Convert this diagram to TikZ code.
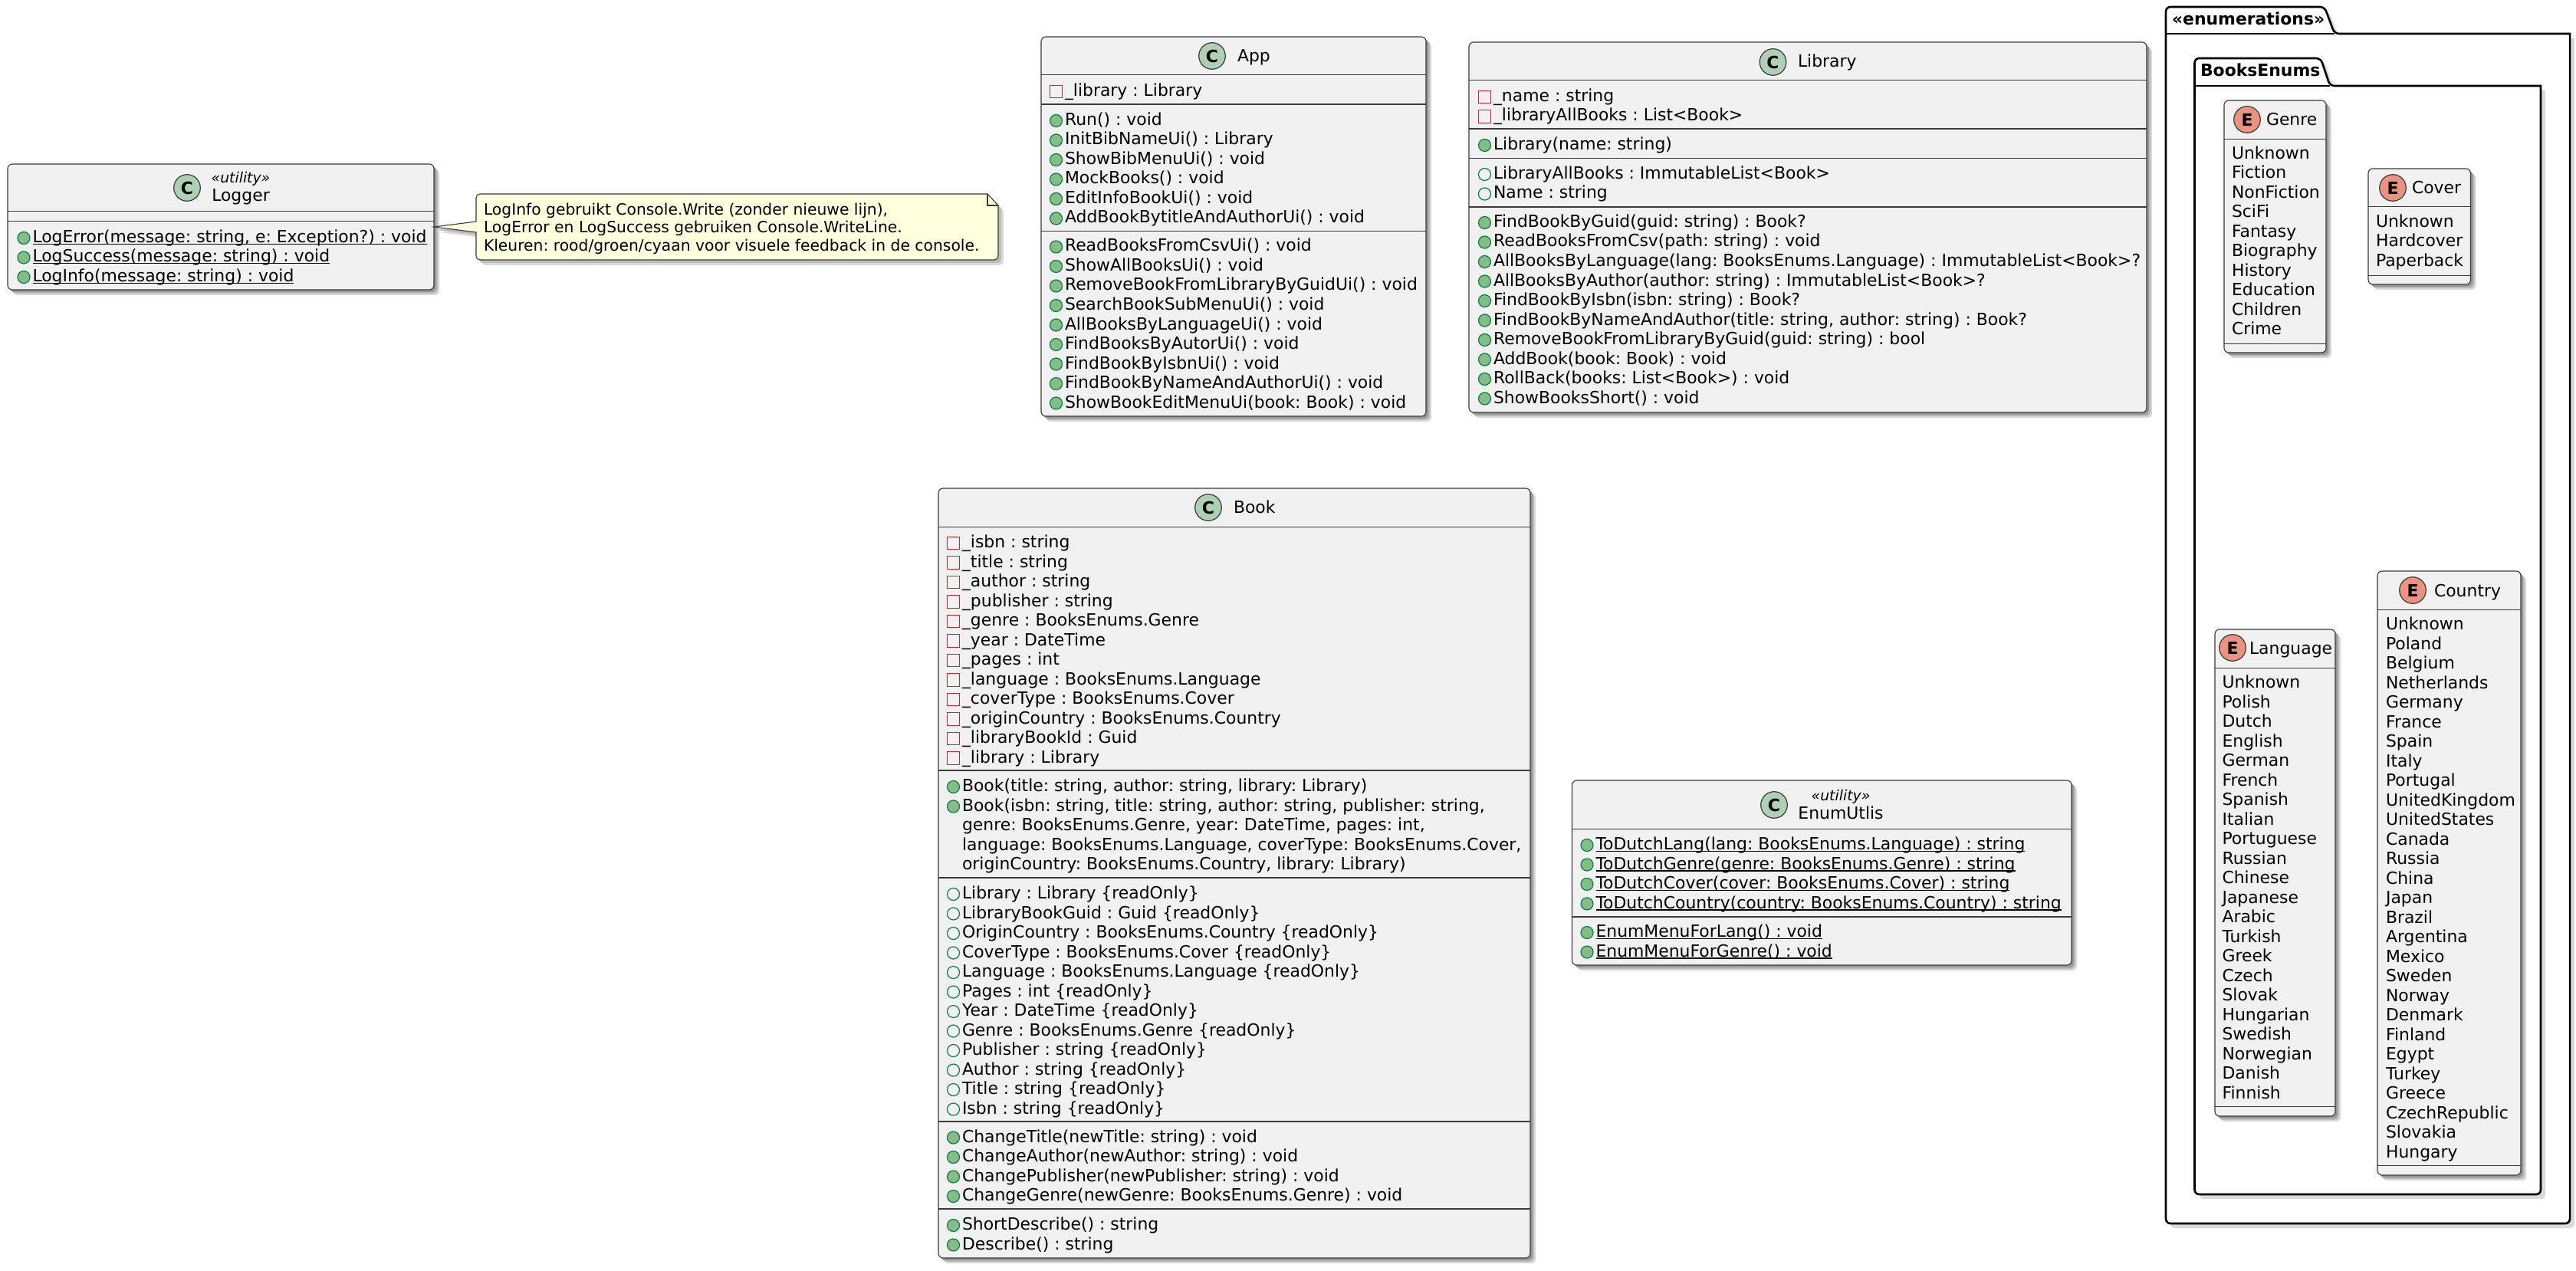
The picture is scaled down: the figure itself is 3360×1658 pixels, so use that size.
\documentclass[tikz,border=0pt]{standalone}
\usepackage{fontspec}
\setmainfont{DejaVu Sans}
\usetikzlibrary{calc}
\definecolor{boxfill}{HTML}{F1F1F1}
\definecolor{boxline}{HTML}{3A3A3A}
\definecolor{notefill}{HTML}{FEFFDD}
\definecolor{cfill}{HTML}{ADD1B2}
\definecolor{efill}{HTML}{EB937F}
\definecolor{pubfill}{HTML}{84BE84}
\definecolor{publine}{HTML}{038048}
\definecolor{privline}{HTML}{C82930}
\definecolor{sh1}{HTML}{DADADA}
\definecolor{sh2}{HTML}{BCBCBC}
\definecolor{sh3}{HTML}{969696}
\frenchspacing
\newcommand\txtsize{\fontsize{10.95pt}{12.75pt}\selectfont\frenchspacing}
\tikzset{
  cbox/.style={draw=boxline,fill=boxfill,line width=.55pt,rounded corners=3pt,inner sep=0pt,outer sep=0pt},
  thinsep/.style={draw=boxline,line width=.5pt},
  thicksep/.style={draw=boxline,line width=.85pt},
  rowt/.style={anchor=base west,inner sep=0pt,outer sep=0pt,font=\txtsize,text=black},
  titlet/.style={rowt},
  stereot/.style={anchor=base,inner sep=0pt,outer sep=0pt,font=\fontsize{9.4pt}{11pt}\selectfont\itshape},
  spot/.style={circle,draw=boxline,line width=.6pt,minimum size=17.3pt,inner sep=0pt,font=\fontsize{11pt}{11pt}\selectfont\bfseries},
  pubm/.style={circle,draw=publine,fill=pubfill,line width=.6pt,minimum size=8pt,inner sep=0pt},
  pubf/.style={circle,draw=publine,line width=.6pt,minimum size=8pt,inner sep=0pt},
  privf/.style={rectangle,draw=privline,line width=.6pt,minimum width=7.7pt,minimum height=8.2pt,inner sep=0pt},
  pk/.style={draw=black,fill=white,line width=1.3pt},
  pkt/.style={anchor=base west,inner sep=0pt,outer sep=0pt,font=\txtsize\bfseries},
  notebox/.style={draw=boxline,fill=notefill,line width=.55pt},
  notet/.style={anchor=base west,inner sep=0pt,outer sep=0pt,align=left,font=\fontsize{10.15pt}{11.8pt}\selectfont\frenchspacing},
}
\newcounter{rowc}
\gdef\curx{0}\gdef\cury{0}
\newcommand\startrows[2]{\gdef\curx{#1}\gdef\cury{#2}}
\newcommand\advrow{\pgfmathsetmacro\tmpy{\cury+25.5}\xdef\cury{\tmpy}}
\newcommand\rowT[1]{\stepcounter{rowc}\node[rowt] (t\arabic{rowc}) at (\curx,\cury+7.5) {#1};\advrow}
\newcommand\rowM[1]{\stepcounter{rowc}\node[pubm] (i\arabic{rowc}) at (\curx-11.5,\cury+1.5) {};\rowT{#1}}
\newcommand\rowF[1]{\stepcounter{rowc}\node[pubf] (i\arabic{rowc}) at (\curx-11.5,\cury+1.5) {};\rowT{#1}}
\newcommand\rowP[1]{\stepcounter{rowc}\node[privf] (i\arabic{rowc}) at (\curx-11.5,\cury+1.5) {};\rowT{#1}}
\newcommand\ulx[1]{\setbox0\hbox{#1}\rlap{\rule[-1.25pt]{\wd0}{.6pt}}\box0 }
\newcommand\rowU[1]{\rowM{\ulx{#1}}}
% \classbox{name}{x1}{y1}{x2}{y2}
\newcommand\classbox[5]{%
  \pgfmathsetmacro\bw{(#4-#2)*.5}\pgfmathsetmacro\bh{(#5-#3)*.5}%
  \pgfmathsetmacro\bcx{(#4+#2)/2}\pgfmathsetmacro\bcy{(#5+#3)/2}%
  \fill[sh1,rounded corners=3pt] (#2+7,#3+7) rectangle (#4+7,#5+7);
  \fill[sh2,rounded corners=3pt] (#2+5,#3+5) rectangle (#4+5,#5+5);
  \fill[sh3,rounded corners=3pt] (#2+3,#3+3) rectangle (#4+3,#5+3);
  \node[cbox,minimum width=\bw pt,minimum height=\bh pt] (#1) at (\bcx,\bcy) {};
}
\newcommand\thinline[2]{\draw[thinsep] (#1.west |- 0,#2) -- (#1.east |- 0,#2);}
\newcommand\thickline[2]{\draw[thicksep] (#1.west |- 0,#2) -- (#1.east |- 0,#2);}
% \pkgshape{L}{top}{tabTopR}{tabR}{tabBot}{R}{bot}
\newcommand\pkgshape[7]{%
  \fill[sh1,shift={(6,6)},rounded corners=3pt] (#1,#7) -- (#1,#2) -- (#3,#2) -- (#4,#5) [sharp corners] -- (#6,#5) [rounded corners=3pt] -- (#6,#7) -- cycle;
  \draw[pk,rounded corners=3pt] (#1,#7) -- (#1,#2) -- (#3,#2) -- (#4,#5) [sharp corners] -- (#6,#5) [rounded corners=3pt] -- (#6,#7) -- cycle;
  \draw[pk] (#1,#5) -- (#4,#5);
}
\newcommand\notepath[1]{\path[#1,rounded corners=2.5pt] (621,260) -- (621,253) [sharp corners] -- (1288,253) -- (1302,268) [rounded corners=2.5pt] -- (1302,339) -- (621,339) [sharp corners] -- (621,303) -- (566,296) -- (621,289) -- cycle;}
\begin{document}
\begin{tikzpicture}[x=0.5pt,y=-0.5pt]
\useasboundingbox (0,0) rectangle (3360,1658);
\fill[white] (0,0) rectangle (3360,1658);

% Logger
\classbox{logger}{10}{214}{566}{378}
\node[spot,fill=cfill] (loggerspot) at (244,245) {C};
\node[stereot] (loggerst) at (314,239) {«utility»};
\node[stereot,font=\txtsize] (loggername) at (314,263) {Logger};
\thinline{logger}{276}
\thinline{logger}{289}
\startrows{42.5}{309}
\rowU{LogError(message: string, e: Exception?) : void}
\rowU{LogSuccess(message: string) : void}
\rowU{LogInfo(message: string) : void}

% Note
\notepath{fill=sh1,shift={(7,7)}}
\notepath{fill=sh2,shift={(4,4)}}
\notepath{notebox}
\draw[boxline,line width=.55pt] (1288,253) -- (1288,268) -- (1302,268);
\node[notet] (notetext1) at (631,281) {LogInfo gebruikt Console.Write (zonder nieuwe lijn),};
\node[notet] (notetext2) at (631,304) {LogError en LogSuccess gebruiken Console.WriteLine.};
\node[notet] (notetext3) at (631,327.5) {Kleuren: rood/groen/cyaan voor visuele feedback in de console.};

% App
\classbox{app}{1358}{48}{1860}{543}
\node[spot,fill=cfill] (appspot) at (1581,73) {C};
\node[titlet] (appname) at (1614,81) {App};
\thinline{app}{98}
\thickline{app}{136}
\thickline{app}{301.5}
\startrows{1389}{118}
\rowP{\_library : Library}
\startrows{1389}{156}
\rowM{Run() : void}
\rowM{InitBibNameUi() : Library}
\rowM{ShowBibMenuUi() : void}
\rowM{MockBooks() : void}
\rowM{EditInfoBookUi() : void}
\rowM{AddBookBytitleAndAuthorUi() : void}
\startrows{1389}{320.5}
\rowM{ReadBooksFromCsvUi() : void}
\rowM{ShowAllBooksUi() : void}
\rowM{RemoveBookFromLibraryByGuidUi() : void}
\rowM{SearchBookSubMenuUi() : void}
\rowM{AllBooksByLanguageUi() : void}
\rowM{FindBooksByAutorUi() : void}
\rowM{FindBookByIsbnUi() : void}
\rowM{FindBookByNameAndAuthorUi() : void}
\rowM{ShowBookEditMenuUi(book: Book) : void}

% Library
\classbox{library}{1916}{55}{2800}{538}
\node[spot,fill=cfill] (libspot) at (2312.5,81) {C};
\node[titlet] (libname) at (2345,88) {Library};
\thinline{library}{105}
\thickline{library}{168}
\thickline{library}{206.5}
\thickline{library}{270}
\startrows{1948}{125}
\rowP{\_name : string}
\rowP{\_libraryAllBooks : List<Book>}
\startrows{1948}{188}
\rowM{Library(name: string)}
\startrows{1948}{226}
\rowF{LibraryAllBooks : ImmutableList<Book>}
\rowF{Name : string}
\startrows{1948}{289}
\rowM{FindBookByGuid(guid: string) : Book?}
\rowM{ReadBooksFromCsv(path: string) : void}
\rowM{AllBooksByLanguage(lang: BooksEnums.Language) : ImmutableList<Book>?}
\rowM{AllBooksByAuthor(author: string) : ImmutableList<Book>?}
\rowM{FindBookByIsbn(isbn: string) : Book?}
\rowM{FindBookByNameAndAuthor(title: string, author: string) : Book?}
\rowM{RemoveBookFromLibraryByGuid(guid: string) : bool}
\rowM{AddBook(book: Book) : void}
\rowM{RollBack(books: List<Book>) : void}
\rowM{ShowBooksShort() : void}

% Book
\classbox{book}{1224}{637}{1996}{1641}
\node[spot,fill=cfill] (bookspot) at (1576,662) {C};
\node[titlet] (bookname) at (1609,669.5) {Book};
\thinline{book}{687}
\thickline{book}{1005}
\thickline{book}{1145}
\thickline{book}{1463}
\thickline{book}{1577}
\startrows{1255}{707}
\rowP{\_isbn : string}
\rowP{\_title : string}
\rowP{\_author : string}
\rowP{\_publisher : string}
\rowP{\_genre : BooksEnums.Genre}
\rowP{\_year : DateTime}
\rowP{\_pages : int}
\rowP{\_language : BooksEnums.Language}
\rowP{\_coverType : BooksEnums.Cover}
\rowP{\_originCountry : BooksEnums.Country}
\rowP{\_libraryBookId : Guid}
\rowP{\_library : Library}
\startrows{1255}{1025}
\rowM{Book(title: string, author: string, library: Library)}
\rowM{Book(isbn: string, title: string, author: string, publisher: string,}
\rowT{genre: BooksEnums.Genre, year: DateTime, pages: int,}
\rowT{language: BooksEnums.Language, coverType: BooksEnums.Cover,}
\rowT{originCountry: BooksEnums.Country, library: Library)}
\startrows{1255}{1165}
\rowF{Library : Library \{readOnly\}}
\rowF{LibraryBookGuid : Guid \{readOnly\}}
\rowF{OriginCountry : BooksEnums.Country \{readOnly\}}
\rowF{CoverType : BooksEnums.Cover \{readOnly\}}
\rowF{Language : BooksEnums.Language \{readOnly\}}
\rowF{Pages : int \{readOnly\}}
\rowF{Year : DateTime \{readOnly\}}
\rowF{Genre : BooksEnums.Genre \{readOnly\}}
\rowF{Publisher : string \{readOnly\}}
\rowF{Author : string \{readOnly\}}
\rowF{Title : string \{readOnly\}}
\rowF{Isbn : string \{readOnly\}}
\startrows{1255}{1482.5}
\rowM{ChangeTitle(newTitle: string) : void}
\rowM{ChangeAuthor(newAuthor: string) : void}
\rowM{ChangePublisher(newPublisher: string) : void}
\rowM{ChangeGenre(newGenre: BooksEnums.Genre) : void}
\startrows{1255}{1597}
\rowM{ShortDescribe() : string}
\rowM{Describe() : string}

% EnumUtlis
\classbox{enumutlis}{2050.5}{1018}{2702}{1259}
\node[spot,fill=cfill] (euspot) at (2314,1050) {C};
\node[stereot] (eust) at (2401,1044) {«utility»};
\node[stereot,font=\txtsize] (euname) at (2401,1068) {EnumUtlis};
\thinline{enumutlis}{1081}
\thickline{enumutlis}{1196}
\startrows{2081.5}{1101}
\rowU{ToDutchLang(lang: BooksEnums.Language) : string}
\rowU{ToDutchGenre(genre: BooksEnums.Genre) : string}
\rowU{ToDutchCover(cover: BooksEnums.Cover) : string}
\rowU{ToDutchCountry(country: BooksEnums.Country) : string}
\startrows{2081.5}{1215}
\rowU{EnumMenuForLang() : void}
\rowU{EnumMenuForGenre() : void}

% Packages
\pkgshape{2825}{9}{3032}{3045}{44}{3352}{1596}
\node[pkt] (pkgenum) at (2833,33) {«enumerations»};
\pkgshape{2862.5}{76}{3027}{3039}{112}{3314}{1558}
\node[pkt] (pkgbooks) at (2870,100) {BooksEnums};

% Genre
\classbox{genre}{2901}{131}{3034}{460}
\node[spot,fill=efill] (genrespot) at (2931,156) {E};
\node[titlet] (genrename) at (2956,164) {Genre};
\thinline{genre}{182}
\thinline{genre}{448}
\startrows{2911}{200}
\rowT{Unknown}\rowT{Fiction}\rowT{NonFiction}\rowT{SciFi}\rowT{Fantasy}
\rowT{Biography}\rowT{History}\rowT{Education}\rowT{Children}\rowT{Crime}

% Cover
\classbox{cover}{3089}{220}{3222.5}{371}
\node[spot,fill=efill] (coverspot) at (3121,245) {E};
\node[titlet] (covername) at (3146,253) {Cover};
\thinline{cover}{270}
\thinline{cover}{360}
\startrows{3099}{289}
\rowT{Unknown}\rowT{Hardcover}\rowT{Paperback}

% Language
\classbox{language}{2889}{821}{3046}{1456}
\node[spot,fill=efill] (langspot) at (2912,845) {E};
\node[titlet] (langname) at (2934,853) {Language};
\thinline{language}{871.5}
\thinline{language}{1443}
\startrows{2898.5}{890}
\rowT{Unknown}\rowT{Polish}\rowT{Dutch}\rowT{English}\rowT{German}\rowT{French}
\rowT{Spanish}\rowT{Italian}\rowT{Portuguese}\rowT{Russian}\rowT{Chinese}
\rowT{Japanese}\rowT{Arabic}\rowT{Turkish}\rowT{Greek}\rowT{Czech}\rowT{Slovak}
\rowT{Hungarian}\rowT{Swedish}\rowT{Norwegian}\rowT{Danish}\rowT{Finnish}

% Country
\classbox{country}{3101}{745}{3288}{1533}
\node[spot,fill=efill] (countryspot) at (3147,770) {E};
\node[titlet] (countryname) at (3175,778) {Country};
\thinline{country}{795}
\thinline{country}{1520}
\startrows{3112}{814}
\rowT{Unknown}\rowT{Poland}\rowT{Belgium}\rowT{Netherlands}\rowT{Germany}\rowT{France}
\rowT{Spain}\rowT{Italy}\rowT{Portugal}\rowT{UnitedKingdom}\rowT{UnitedStates}
\rowT{Canada}\rowT{Russia}\rowT{China}\rowT{Japan}\rowT{Brazil}\rowT{Argentina}
\rowT{Mexico}\rowT{Sweden}\rowT{Norway}\rowT{Denmark}\rowT{Finland}\rowT{Egypt}
\rowT{Turkey}\rowT{Greece}\rowT{CzechRepublic}\rowT{Slovakia}\rowT{Hungary}
\end{tikzpicture}
\end{document}
